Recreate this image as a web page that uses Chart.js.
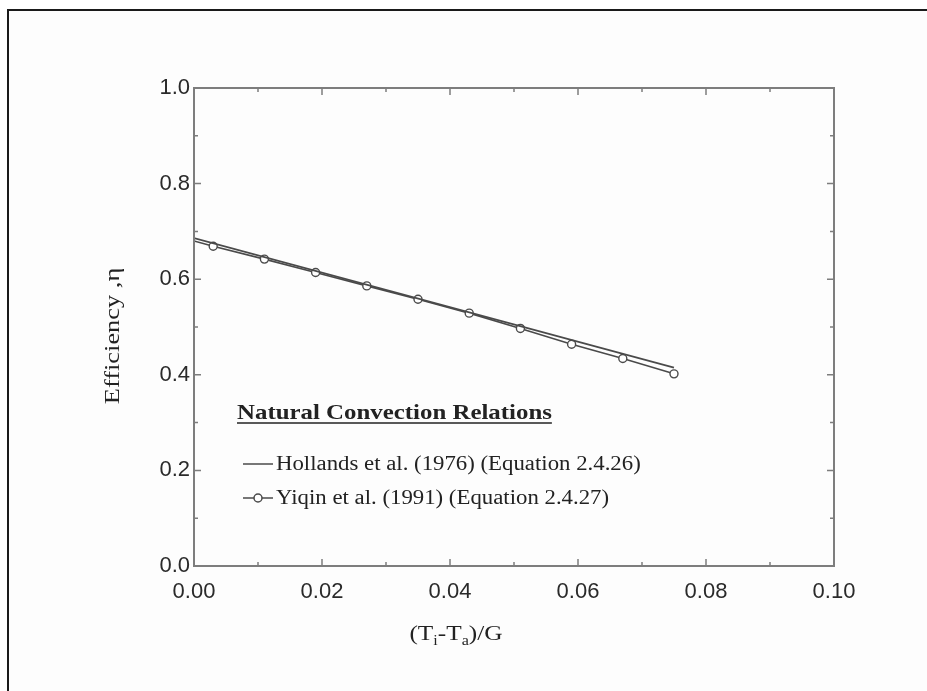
<!DOCTYPE html>
<html><head><meta charset="utf-8">
<script src="https://cdn.jsdelivr.net/npm/chart.js@4/dist/chart.umd.min.js"></script>
<style>
html,body{margin:0;padding:0;background:#fff;}
#wrap{position:relative;width:927px;height:691px;overflow:hidden;}
#frame{position:absolute;left:7px;top:9px;right:0;bottom:0;border-left:2px solid #1a1a1a;border-top:2px solid #1a1a1a;background:#fdfdfd;}
canvas{position:absolute;left:0;top:0;}
</style></head>
<body><div id="wrap"><div id="frame"></div><canvas id="c" width="927" height="691"></canvas></div>
<script>
// ---- data ----
const xTicks = [0, 0.02, 0.04, 0.06, 0.08, 0.10];
const xMinor = [0.01, 0.03, 0.05, 0.07, 0.09];
const yTicks = [0, 0.2, 0.4, 0.6, 0.8, 1.0];
const yMinor = [0.1, 0.3, 0.5, 0.7, 0.9];
const hollandsX = [0, 0.075];
const hollandsY = [0.686, 0.415];
const yiqinX = [0, 0.003, 0.011, 0.019, 0.027, 0.035, 0.043, 0.051, 0.059, 0.067, 0.075];
const yiqinY = [0.680, 0.669, 0.642, 0.614, 0.586, 0.558, 0.529, 0.497, 0.464, 0.434, 0.402];
const yiqinMarker = [0, 4, 4, 4, 4, 4, 4, 4, 4, 4, 4];
const legendTitle = "Natural Convection Relations";
const seriesNames = ["Hollands et al. (1976) (Equation 2.4.26)", "Yiqin et al. (1991) (Equation 2.4.27)"];
const yTitle = "Efficiency ,\u03B7";

const LINE = '#4a4a4a';
const AXIS = '#7d7d7d';
const SERIF = '"Liberation Serif", "Times New Roman", serif';
const SANS = '"Liberation Sans", Arial, sans-serif';

function pts(xs, ys){ return xs.map((x,i)=>({x:x, y:ys[i]})); }

function stretchText(ctx, txt, x, y, sx){
  ctx.save(); ctx.translate(x, y); ctx.scale(sx, 1); ctx.fillText(txt, 0, 0); ctx.restore();
  return ctx.measureText(txt).width * sx;
}

const framePlugin = {
  id: 'framePlugin',
  afterDraw(chart){
    const ctx = chart.ctx, a = chart.chartArea, xs = chart.scales.x, ys = chart.scales.y;
    ctx.save();
    ctx.strokeStyle = AXIS; ctx.lineWidth = 2;
    ctx.strokeRect(a.left, a.top, a.right - a.left, a.bottom - a.top);
    ctx.lineWidth = 1.5;
    const tk = (vals, len, horiz) => {
      vals.forEach(v => {
        ctx.beginPath();
        if (horiz) {
          const p = xs.getPixelForValue(v);
          ctx.moveTo(p, a.bottom); ctx.lineTo(p, a.bottom - len);
          ctx.moveTo(p, a.top); ctx.lineTo(p, a.top + len);
        } else {
          const p = ys.getPixelForValue(v);
          ctx.moveTo(a.left, p); ctx.lineTo(a.left + len, p);
          ctx.moveTo(a.right, p); ctx.lineTo(a.right - len, p);
        }
        ctx.stroke();
      });
    };
    tk(xTicks, 7, true); tk(xMinor, 4, true);
    tk(yTicks, 7, false); tk(yMinor, 4, false);

    // axis titles
    ctx.fillStyle = '#222';
    ctx.font = '22px ' + SERIF;
    ctx.textBaseline = 'alphabetic';
    ctx.save();
    ctx.translate(119, 336);
    ctx.rotate(-Math.PI/2);
    ctx.scale(1.2, 1);
    ctx.textAlign = 'center';
    ctx.fillText(yTitle, 0, 0);
    ctx.restore();

    // x title with subscripts
    ctx.textAlign = 'left';
    const parts = [['(T',0],['i',1],['-T',0],['a',1],[')/G',0]];
    const sx = 1.15;
    let total = 0;
    parts.forEach(p => { ctx.font = (p[1] ? '14px ' : '22px ') + SERIF; total += ctx.measureText(p[0]).width * sx; });
    let cx = 456 - total/2;
    parts.forEach(p => {
      ctx.font = (p[1] ? '14px ' : '22px ') + SERIF;
      cx += stretchText(ctx, p[0], cx, p[1] ? 645 : 640, sx);
    });

    // legend
    ctx.font = 'bold 22px ' + SERIF;
    const w = stretchText(ctx, legendTitle, 237, 419, 1.13);
    ctx.strokeStyle = '#222'; ctx.lineWidth = 1.5;
    ctx.beginPath(); ctx.moveTo(237, 423); ctx.lineTo(237 + w, 423); ctx.stroke();

    ctx.font = '20px ' + SERIF;
    const rows = [470, 504];
    seriesNames.forEach((n, i) => {
      const ds = chart.data.datasets[i];
      const ly = rows[i] - 6;
      ctx.strokeStyle = ds.borderColor; ctx.lineWidth = 1.5;
      ctx.beginPath(); ctx.moveTo(243, ly); ctx.lineTo(273, ly); ctx.stroke();
      if (i === 1) {
        ctx.beginPath(); ctx.arc(258, ly, 4, 0, Math.PI*2);
        ctx.fillStyle = '#fff'; ctx.fill(); ctx.stroke();
      }
      ctx.fillStyle = '#222';
      stretchText(ctx, n, 276, rows[i], 1.14);
    });
    ctx.restore();
  }
};

new Chart(document.getElementById('c'), {
  type: 'scatter',
  data: {
    datasets: [
      { label: seriesNames[0], data: pts(hollandsX, hollandsY), showLine: true,
        borderColor: LINE, borderWidth: 1.6, pointRadius: 0, pointHoverRadius: 0 },
      { label: seriesNames[1], data: pts(yiqinX, yiqinY), showLine: true,
        borderColor: LINE, borderWidth: 1.6, pointRadius: yiqinMarker,
        pointBackgroundColor: '#fff', pointBorderColor: LINE, pointBorderWidth: 1.4 }
    ]
  },
  options: {
    responsive: false, animation: false, devicePixelRatio: 1,
    layout: { padding: { top: 88, right: 93, bottom: 40, left: 0 } },
    plugins: { legend: { display: false }, tooltip: { enabled: false } },
    scales: {
      x: {
        type: 'linear', min: 0, max: 0.1,
        afterBuildTicks: s => { s.ticks = xTicks.map(v => ({ value: v })); },
        afterFit: s => { s.height = 85; },
        grid: { display: false }, border: { display: false },
        ticks: { callback: v => v.toFixed(2), color: '#2a2a2a', padding: 5, maxRotation: 0, autoSkip: false,
                 font: { family: SANS, size: 22 } }
      },
      y: {
        type: 'linear', min: 0, max: 1,
        afterBuildTicks: s => { s.ticks = yTicks.map(v => ({ value: v })); },
        afterFit: s => { s.width = 194; },
        grid: { display: false }, border: { display: false },
        ticks: { callback: v => v.toFixed(1), color: '#2a2a2a', padding: -4, autoSkip: false,
                 font: { family: SANS, size: 22 } }
      }
    }
  },
  plugins: [framePlugin]
});
</script>
</body></html>
